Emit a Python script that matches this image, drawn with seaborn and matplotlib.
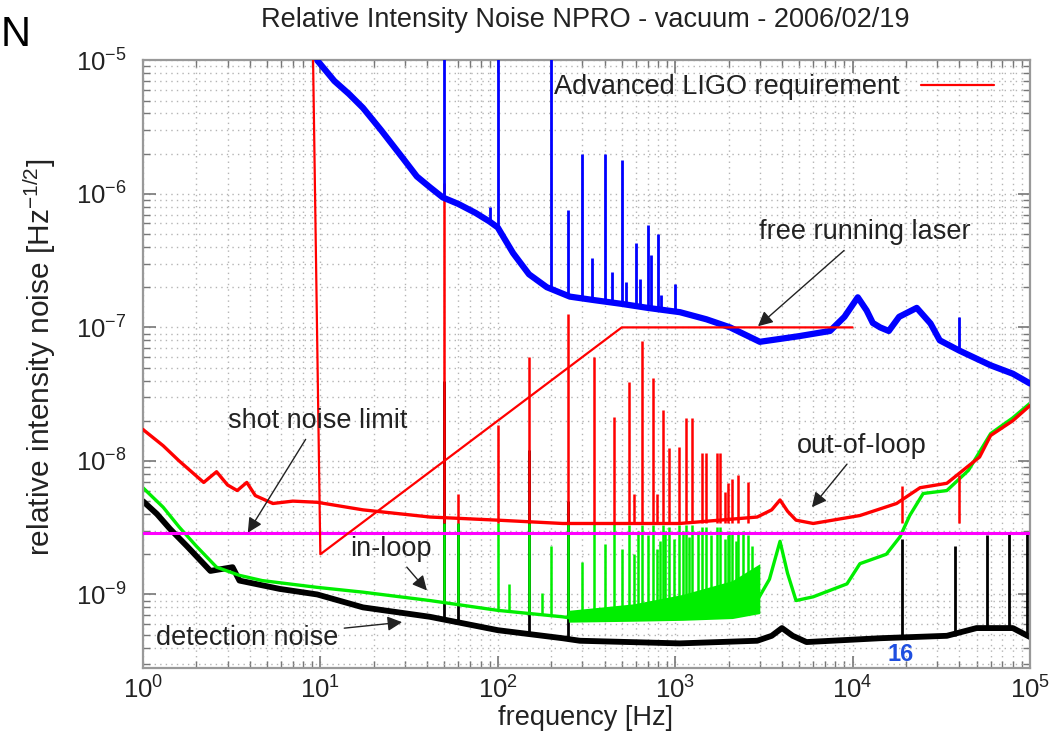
import matplotlib
matplotlib.use("Agg")
import matplotlib.pyplot as plt
import seaborn as sns
import pandas as pd
import numpy as np

# ---------------- data ----------------
title = "Relative Intensity Noise NPRO - vacuum - 2006/02/19"

# free running laser (blue)
free_f = [9.6, 12, 14.5, 17.4, 22, 29, 35, 41.5, 49, 60, 75, 90, 100, 122, 150, 189, 255,
          350, 500, 700, 1064, 1500, 2040, 3000, 3900, 5000, 7460, 9000, 10700, 12000,
          13000, 14300, 16000, 18300, 23000, 27500, 31000, 40000, 60000, 80000, 100000]
free_y = [1.0e-5, 7.0e-6, 5.6e-6, 4.4e-6, 3.0e-6, 1.87e-6, 1.35e-6, 1.12e-6, 9.4e-7, 8.4e-7,
          7.2e-7, 6.2e-7, 5.6e-7, 3.6e-7, 2.5e-7, 2.0e-7, 1.7e-7,
          1.6e-7, 1.5e-7, 1.4e-7, 1.3e-7, 1.15e-7, 1.0e-7, 7.8e-8, 8.2e-8, 8.6e-8, 9.4e-8,
          1.2e-7, 1.68e-7, 1.34e-7, 1.08e-7, 1.0e-7, 9.4e-8, 1.2e-7, 1.4e-7, 1.07e-7, 8.0e-8,
          6.7e-8, 5.2e-8, 4.5e-8, 3.8e-8]
free_spike_f = [50, 90, 100, 200, 250, 300, 340, 400, 440, 500, 530, 600, 630, 700, 730, 800, 830, 1000, 40000]
free_spike_lo = [9.4e-7, 6.0e-7, 5.5e-7, 2.0e-7, 1.7e-7, 1.65e-7, 1.6e-7, 1.55e-7, 1.55e-7, 1.5e-7,
                 1.5e-7, 1.45e-7, 1.45e-7, 1.4e-7, 1.4e-7, 1.4e-7, 1.4e-7, 1.3e-7, 6.7e-8]
free_spike_hi = [2e-5, 8.0e-7, 2e-5, 2e-5, 7.6e-7, 2.0e-6, 3.3e-7, 2.0e-6, 2.6e-7, 1.8e-6,
                 2.2e-7, 4.3e-7, 2.3e-7, 5.8e-7, 3.5e-7, 5.0e-7, 1.75e-7, 2.1e-7, 1.2e-7]

# out-of-loop (red)
out_f = [1, 1.3, 1.6, 2.2, 2.6, 3.0, 3.4, 3.85, 4.3, 5.4, 7, 9.6, 17.4, 41.5, 100, 232,
         1060, 2900, 3500, 3900, 4300, 4800, 6000, 11000, 17700, 24000, 34000, 52000,
         60000, 80000, 100000]
out_y = [1.72e-8, 1.3e-8, 1.0e-8, 6.9e-9, 8.3e-9, 6.6e-9, 6.0e-9, 6.9e-9, 5.5e-9, 4.8e-9,
         5.0e-9, 4.9e-9, 4.3e-9, 3.8e-9, 3.6e-9, 3.4e-9,
         3.4e-9, 3.8e-9, 4.3e-9, 5.1e-9, 4.2e-9, 3.6e-9, 3.4e-9, 3.9e-9, 4.8e-9, 6.3e-9,
         6.8e-9, 1.07e-8, 1.55e-8, 2.0e-8, 2.6e-8]
out_spike_f = [50, 60, 100, 150, 250, 350, 450, 550, 585, 650, 750, 790, 850, 920, 1050, 1150,
               1250, 1420, 1500, 1720, 1800, 1900, 1990, 2090, 2270, 2560, 19000, 40000]
out_spike_hi = [1.2e-6, 5.7e-9, 1.87e-8, 6.0e-8, 1.27e-7, 6.0e-8, 2.15e-8, 3.9e-8, 5.7e-9, 7.9e-8,
                4.2e-8, 5.7e-9, 2.4e-8, 1.24e-8, 1.27e-8, 2.1e-8, 2.1e-8, 1.14e-8, 1.15e-8,
                1.15e-8, 1.14e-8, 5.9e-9, 6.8e-9, 7.3e-9, 7.9e-9, 7.0e-9, 6.5e-9, 7.9e-9]
out_spike_lo = 3.4e-9

# in-loop (green)
in_f = [1, 1.3, 1.6, 2, 2.6, 3.5, 4.7, 9.6, 17.4, 41.5, 100, 232, 290, 1060, 2000, 2900,
        3400, 3900, 4300, 4800, 6000, 9300, 11000, 15500, 18500, 21000, 25000, 34000,
        45000, 60000, 80000, 100000]
in_y = [6.3e-9, 4.5e-9, 3.2e-9, 2.3e-9, 1.6e-9, 1.39e-9, 1.27e-9, 1.13e-9, 1.04e-9, 9.0e-10,
        7.6e-10, 6.8e-10, 6.5e-10, 6.8e-10, 7.2e-10, 9.0e-10,
        1.3e-9, 2.5e-9, 1.44e-9, 9.0e-10, 9.6e-10, 1.2e-9, 1.7e-9, 2.0e-9, 2.7e-9, 3.9e-9,
        5.7e-9, 6.0e-9, 8.5e-9, 1.6e-8, 2.1e-8, 2.7e-8]
in_band_f = [250, 580, 1100, 2100, 3000]
in_band_lo = [6.2e-10, 6.3e-10, 6.4e-10, 6.6e-10, 7.2e-10]
in_band_hi = [7.6e-10, 8.5e-10, 1.0e-9, 1.27e-9, 1.7e-9]
in_spike_f = [50, 60, 100, 116, 150, 177, 200, 250, 300, 350, 400, 450, 500, 550, 585, 620,
              650, 700, 750, 790, 820, 850, 880, 920, 980, 1050, 1100, 1150, 1200, 1250,
              1350, 1420, 1500, 1600, 1720, 1800, 1900, 1990, 2000, 2090, 2200, 2270,
              2400, 2560, 2700]
in_spike_hi = [3.4e-9, 3.4e-9, 3.4e-9, 1.2e-9, 3.4e-9, 1.03e-9, 2.3e-9, 3.4e-9, 1.76e-9, 3.4e-9,
               2.4e-9, 3.4e-9, 2.2e-9, 3.3e-9, 2.0e-9, 3.0e-9,
               3.3e-9, 2.8e-9, 3.3e-9, 2.2e-9, 2.5e-9, 3.3e-9, 3.0e-9, 3.2e-9, 2.6e-9, 3.3e-9,
               3.0e-9, 3.3e-9, 2.7e-9, 3.3e-9,
               3.0e-9, 3.2e-9, 3.2e-9, 2.8e-9, 3.2e-9, 3.2e-9, 2.6e-9, 2.8e-9, 3.0e-9, 2.9e-9,
               2.5e-9, 2.9e-9, 3.0e-9, 2.8e-9, 2.3e-9]
in_spike_lo = [9.0e-10, 8.7e-10, 7.6e-10, 7.4e-10, 7.2e-10, 7.0e-10, 7.0e-10, 6.8e-10, 6.5e-10,
               6.5e-10, 6.5e-10, 6.5e-10, 6.5e-10, 6.5e-10, 6.5e-10, 6.5e-10,
               6.5e-10, 6.5e-10, 6.5e-10, 6.5e-10, 6.5e-10, 6.5e-10, 6.5e-10, 6.5e-10, 6.6e-10,
               6.6e-10, 6.6e-10, 6.6e-10, 6.6e-10, 6.7e-10,
               6.7e-10, 6.7e-10, 6.7e-10, 6.7e-10, 6.8e-10, 6.8e-10, 6.8e-10, 6.8e-10, 6.8e-10,
               6.8e-10, 6.9e-10, 6.9e-10, 7.0e-10, 7.2e-10, 7.5e-10]

# detection noise (black)
det_f = [1, 1.2, 1.42, 1.77, 2.4, 3.2, 3.5, 5.9, 9.6, 17.4, 41.5, 100, 232, 290, 1060, 2900,
         3500, 4000, 4600, 5500, 14300, 34000, 50000, 80000, 100000]
det_y = [5.0e-9, 4.0e-9, 3.1e-9, 2.3e-9, 1.5e-9, 1.6e-9, 1.27e-9, 1.1e-9, 1.0e-9, 8.0e-10,
         6.8e-10, 5.4e-10, 4.7e-10, 4.5e-10, 4.3e-10, 4.5e-10,
         4.9e-10, 5.6e-10, 4.9e-10, 4.4e-10, 4.7e-10, 4.9e-10, 5.6e-10, 5.6e-10, 4.8e-10]
det_spike_f = [50, 60, 150, 250, 19000, 38000, 57000, 76000, 96000]
det_spike_lo = [6.5e-10, 6.3e-10, 5.0e-10, 4.8e-10, 4.7e-10, 4.9e-10, 5.6e-10, 5.6e-10, 4.8e-10]
det_spike_hi = [4.0e-8, 3.4e-9, 1.2e-8, 5.0e-9, 2.6e-9, 2.3e-9, 2.8e-9, 2.9e-9, 2.9e-9]

# shot noise limit (magenta)
shot_f = [1, 100000]
shot_y = [2.9e-9, 2.9e-9]

# Advanced LIGO requirement (red)
req_f = [9.1, 10, 500, 10000]
req_y = [1.0e-5, 2.0e-9, 1.0e-7, 1.0e-7]

x_ticks = [1, 10, 100, 1000, 10000, 100000]
y_ticks = [1e-9, 1e-8, 1e-7, 1e-6, 1e-5]

# ---------------- style ----------------
sns.set_style("ticks")
plt.rcParams["font.family"] = ["Liberation Sans", "DejaVu Sans"]
plt.rcParams["mathtext.fontset"] = "custom"
plt.rcParams["mathtext.rm"] = "Liberation Sans"
plt.rcParams["mathtext.it"] = "Liberation Sans:italic"
plt.rcParams["mathtext.bf"] = "Liberation Sans:bold"

FS = 19.5
TFS = 18.5
BLUE, RED, GREEN, BLACK, MAG = "#0000ff", "#ff0000", "#00ee00", "#000000", "#ff00ff"
TXT = "#222222"

fig = plt.figure(figsize=(10.51, 7.45), dpi=100)
ax = fig.add_axes([0.136, 0.103, 0.844, 0.816])
ax.set_xscale("log")
ax.set_yscale("log")

def line(x, y, color, lw, z, label=None):
    df = pd.DataFrame({"f": x, "v": y})
    sns.lineplot(data=df, x="f", y="v", color=color, lw=lw, ax=ax, sort=False,
                 estimator=None, zorder=z, label=label, legend=False)

# detection noise
ax.vlines(det_spike_f, det_spike_lo, det_spike_hi, color=BLACK, lw=2, zorder=1)
line(det_f, det_y, BLACK, 4.2, 1.5)
# in-loop
ax.fill_between(in_band_f, in_band_lo, in_band_hi, color=GREEN, lw=0, zorder=2)
ax.vlines(in_spike_f, in_spike_lo, in_spike_hi, color=GREEN, lw=1.8, zorder=2)
line(in_f, in_y, GREEN, 2.4, 2.2)
# out-of-loop
ax.vlines(out_spike_f, out_spike_lo, out_spike_hi, color=RED, lw=1.8, zorder=3)
line(out_f, out_y, RED, 2.4, 3.2)
# free running
ax.vlines(free_spike_f, free_spike_lo, free_spike_hi, color=BLUE, lw=2, zorder=3)
line(free_f, free_y, BLUE, 4.5, 3.3)
# shot noise
line(shot_f, shot_y, MAG, 2.2, 4)
# requirement
line(req_f, req_y, RED, 1.6, 5, label="Advanced LIGO requirement")

ax.set_xlim(1, 1e5)
ax.set_ylim(2.8e-10, 1e-5)
ax.set_xticks(x_ticks)
ax.set_yticks(y_ticks)
ax.xaxis.set_minor_locator(matplotlib.ticker.LogLocator(base=10, subs=np.arange(2, 10), numticks=20))
ax.yaxis.set_minor_locator(matplotlib.ticker.LogLocator(base=10, subs=np.arange(2, 10), numticks=20))
ax.xaxis.set_minor_formatter(matplotlib.ticker.NullFormatter())
ax.yaxis.set_minor_formatter(matplotlib.ticker.NullFormatter())
ax.set_xlabel("")
ax.set_ylabel("")
ax.grid(True, which="both", linestyle=(0, (1, 3)), color="#b4b4b4", linewidth=1.0, zorder=0)
ax.tick_params(which="both", direction="in", top=True, right=True, colors="#777777",
               labelcolor=TXT, labelsize=TFS)
ax.tick_params(which="major", length=9, width=1.2)
ax.tick_params(which="minor", length=5, width=1.0)
ax.tick_params(axis="x", pad=6)
ax.tick_params(axis="y", pad=12)
for s in ax.spines.values():
    s.set_color("#999999")
    s.set_linewidth(1.6)

leg = ax.legend(loc="upper right", bbox_to_anchor=(0.981, 1.008), frameon=False,
                markerfirst=False, handlelength=2.7, fontsize=FS, borderaxespad=0.3)
for t in leg.get_texts():
    t.set_color(TXT)

# annotations
arrow = dict(arrowstyle="-|>", color=TXT, lw=1.0, mutation_scale=22, shrinkA=2, shrinkB=0)
ax.annotate("free running laser", xy=(2930, 1.02e-7), xytext=(11700, 5.15e-7),
            ha="center", va="center", fontsize=FS, color=TXT, arrowprops=arrow, zorder=6)
ax.annotate("shot noise limit", xy=(3.9, 2.9e-9), xytext=(9.6, 2.0e-8),
            ha="center", va="center", fontsize=FS, color=TXT, arrowprops=arrow, zorder=6)
ax.annotate("in-loop", xy=(39.9, 1.07e-9), xytext=(25, 2.2e-9),
            ha="center", va="center", fontsize=FS, color=TXT, arrowprops=arrow, zorder=6)
ax.annotate("detection noise", xy=(28.9, 6.2e-10), xytext=(3.86, 4.7e-10),
            ha="center", va="center", fontsize=FS, color=TXT, arrowprops=arrow, zorder=6)
ax.annotate("out-of-loop", xy=(5900, 4.5e-9), xytext=(11300, 1.3e-8),
            ha="center", va="center", fontsize=FS, color=TXT, arrowprops=arrow, zorder=6)

fig.text(0.557, 0.973, title, ha="center", va="center", fontsize=FS, color=TXT)
fig.text(0.557, 0.036, "frequency [Hz]", ha="center", va="center", fontsize=FS, color=TXT)
fig.text(0.038, 0.52, r"relative intensity noise [Hz$^{-1/2}$]", ha="center", va="center",
         rotation=90, fontsize=21.5, color=TXT)
fig.text(0.001, 0.953, "N", ha="left", va="center", fontsize=30, color="black")
fig.text(0.857, 0.122, "16", ha="center", va="center", fontsize=17, fontweight="bold",
         color="#1f4fe0")

fig.savefig("out.png", dpi=100)
